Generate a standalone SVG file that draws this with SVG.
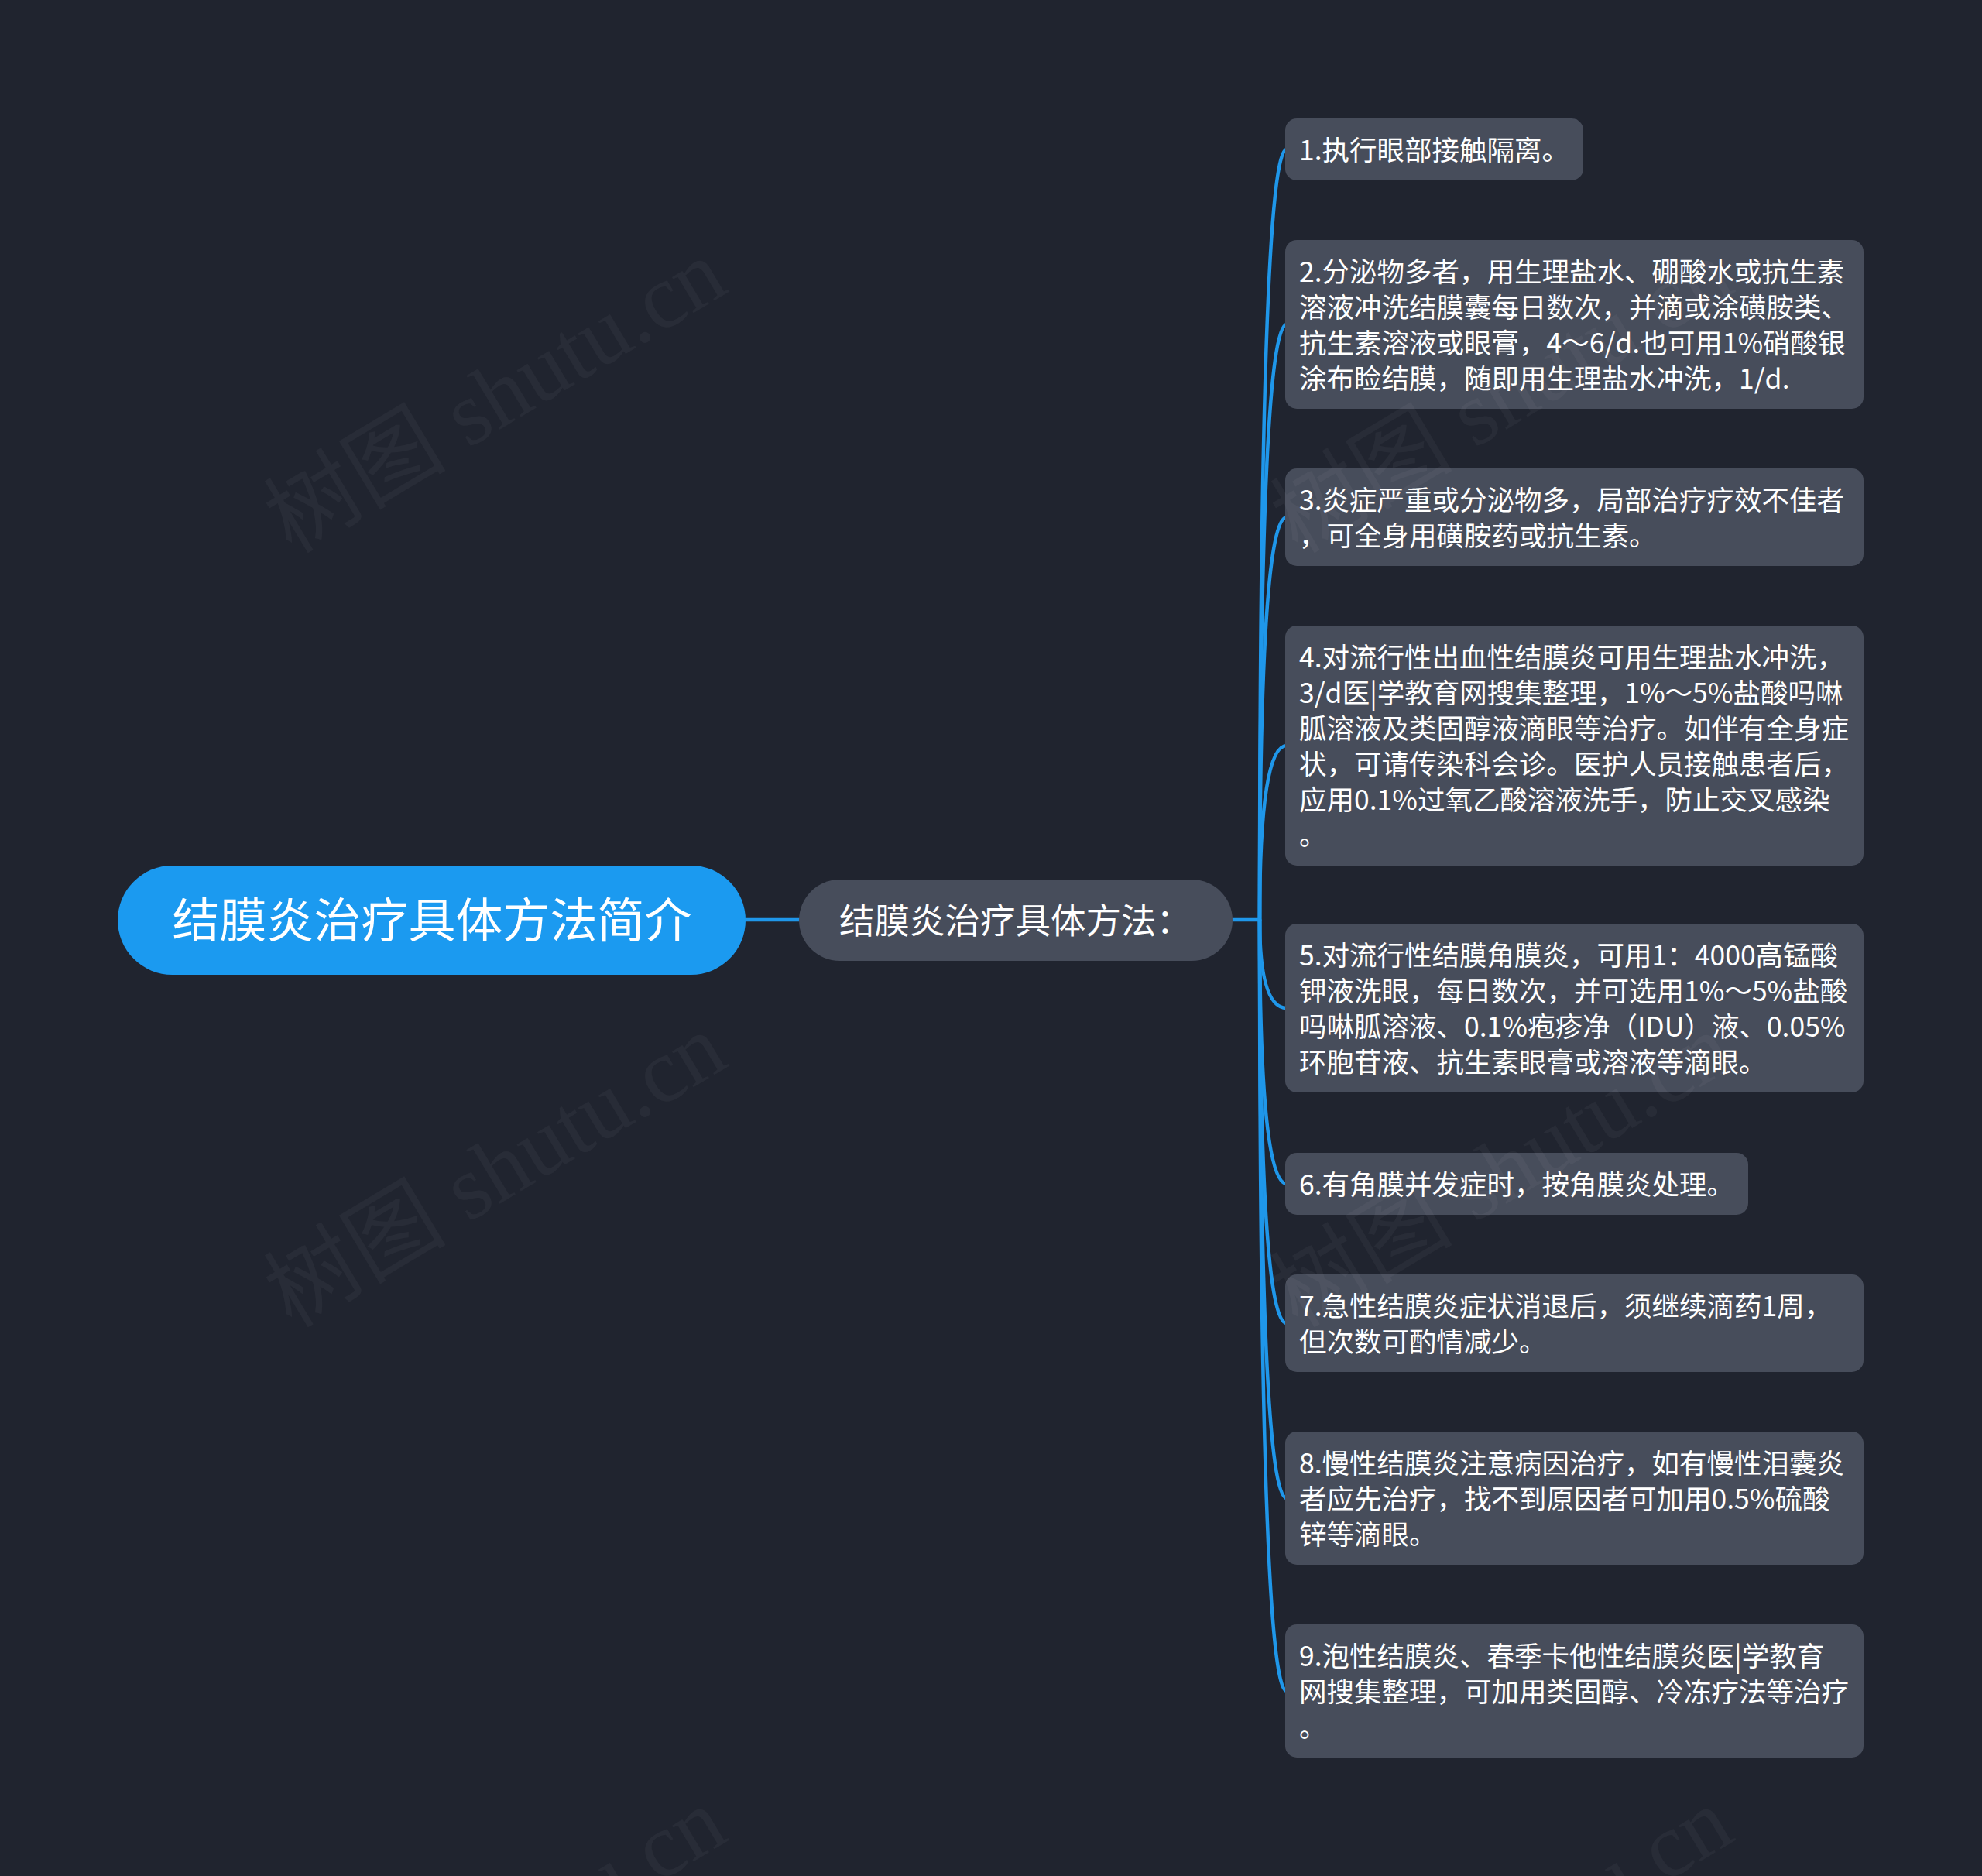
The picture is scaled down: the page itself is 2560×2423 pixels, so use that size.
<svg xmlns="http://www.w3.org/2000/svg" width="2560" height="2423" viewBox="0 0 2560 2423">
<style>
  .bg { fill: #20242f; }
  .root { fill: #1b9af0; }
  .mid { fill: #474d5b; }
  .leaf { fill: #474d5b; }
  .conn { fill: none; stroke: #1f97ea; stroke-width: 4.5; stroke-linecap: round; }
  .t { font-family: "Noto Sans CJK SC", "Microsoft YaHei", "Noto Sans", sans-serif; fill: #ffffff; dominant-baseline: central; }
  .rt { font-size: 61px; text-anchor: middle; }
  .mt { font-size: 45.5px; }
  .lt { font-size: 35.5px; }
  .wm { font-family: "Liberation Serif", "Noto Sans CJK SC", serif; font-size: 118px; fill: #ffffff; fill-opacity: 0.04; text-anchor: middle; dominant-baseline: central; }
</style>
<rect class="bg" x="0" y="0" width="2560" height="2423"/>

<g id="connectors">
  <path class="conn" d="M 963 1188 H 1032"/>
  <path class="conn" d="M 1592 1188 H 1627"/>
  <path class="conn" d="M 1627 1188 Q 1627 193 1662 193"/>
  <path class="conn" d="M 1627 1188 Q 1627 419 1662 419"/>
  <path class="conn" d="M 1627 1188 Q 1627 668 1662 668"/>
  <path class="conn" d="M 1627 1188 Q 1627 963 1662 963"/>
  <path class="conn" d="M 1627 1188 Q 1627 1302 1662 1302"/>
  <path class="conn" d="M 1627 1188 Q 1627 1529 1662 1529"/>
  <path class="conn" d="M 1627 1188 Q 1627 1709 1662 1709"/>
  <path class="conn" d="M 1627 1188 Q 1627 1935 1662 1935"/>
  <path class="conn" d="M 1627 1188 Q 1627 2184 1662 2184"/>
</g>

<g id="root">
  <rect class="root" x="152" y="1118" width="811" height="141" rx="70.5"/>
  <text class="t rt" x="558" y="1184">结膜炎治疗具体方法简介</text>
</g>

<g id="mid">
  <rect class="mid" x="1032" y="1136" width="560" height="105" rx="52.5"/>
  <text class="t mt" x="1084" y="1186">结膜炎治疗具体方法：</text>
</g>

<g id="leaf1">
  <rect class="leaf" x="1660" y="153" width="385" height="80" rx="15"/>
  <text class="t lt" x="1678"><tspan x="1678" y="191">1.执行眼部接触隔离。</tspan></text>
</g>

<g id="leaf2">
  <rect class="leaf" x="1660" y="310" width="747" height="218" rx="15"/>
  <text class="t lt" x="1678">
    <tspan x="1678" y="348">2.分泌物多者，用生理盐水、硼酸水或抗生素</tspan>
    <tspan x="1678" y="394">溶液冲洗结膜囊每日数次，并滴或涂磺胺类、</tspan>
    <tspan x="1678" y="440">抗生素溶液或眼膏，4～6/d.也可用1%硝酸银</tspan>
    <tspan x="1678" y="486">涂布睑结膜，随即用生理盐水冲洗，1/d.</tspan>
  </text>
</g>

<g id="leaf3">
  <rect class="leaf" x="1660" y="605" width="747" height="126" rx="15"/>
  <text class="t lt" x="1678">
    <tspan x="1678" y="643">3.炎症严重或分泌物多，局部治疗疗效不佳者</tspan>
    <tspan x="1678" y="689">，可全身用磺胺药或抗生素。</tspan>
  </text>
</g>

<g id="leaf4">
  <rect class="leaf" x="1660" y="808" width="747" height="310" rx="15"/>
  <text class="t lt" x="1678">
    <tspan x="1678" y="846">4.对流行性出血性结膜炎可用生理盐水冲洗，</tspan>
    <tspan x="1678" y="892">3/d医|学教育网搜集整理，1%～5%盐酸吗啉</tspan>
    <tspan x="1678" y="938">胍溶液及类固醇液滴眼等治疗。如伴有全身症</tspan>
    <tspan x="1678" y="984">状，可请传染科会诊。医护人员接触患者后，</tspan>
    <tspan x="1678" y="1030">应用0.1%过氧乙酸溶液洗手，防止交叉感染</tspan>
    <tspan x="1678" y="1076">。</tspan>
  </text>
</g>

<g id="leaf5">
  <rect class="leaf" x="1660" y="1193" width="747" height="218" rx="15"/>
  <text class="t lt" x="1678">
    <tspan x="1678" y="1231">5.对流行性结膜角膜炎，可用1：4000高锰酸</tspan>
    <tspan x="1678" y="1277">钾液洗眼，每日数次，并可选用1%～5%盐酸</tspan>
    <tspan x="1678" y="1323">吗啉胍溶液、0.1%疱疹净（IDU）液、0.05%</tspan>
    <tspan x="1678" y="1369">环胞苷液、抗生素眼膏或溶液等滴眼。</tspan>
  </text>
</g>

<g id="leaf6">
  <rect class="leaf" x="1660" y="1489" width="598" height="80" rx="15"/>
  <text class="t lt" x="1678"><tspan x="1678" y="1527">6.有角膜并发症时，按角膜炎处理。</tspan></text>
</g>

<g id="leaf7">
  <rect class="leaf" x="1660" y="1646" width="747" height="126" rx="15"/>
  <text class="t lt" x="1678">
    <tspan x="1678" y="1684">7.急性结膜炎症状消退后，须继续滴药1周，</tspan>
    <tspan x="1678" y="1730">但次数可酌情减少。</tspan>
  </text>
</g>

<g id="leaf8">
  <rect class="leaf" x="1660" y="1849" width="747" height="172" rx="15"/>
  <text class="t lt" x="1678">
    <tspan x="1678" y="1887">8.慢性结膜炎注意病因治疗，如有慢性泪囊炎</tspan>
    <tspan x="1678" y="1933">者应先治疗，找不到原因者可加用0.5%硫酸</tspan>
    <tspan x="1678" y="1979">锌等滴眼。</tspan>
  </text>
</g>

<g id="leaf9">
  <rect class="leaf" x="1660" y="2098" width="747" height="172" rx="15"/>
  <text class="t lt" x="1678">
    <tspan x="1678" y="2136">9.泡性结膜炎、春季卡他性结膜炎医|学教育</tspan>
    <tspan x="1678" y="2182">网搜集整理，可加用类固醇、冷冻疗法等治疗</tspan>
    <tspan x="1678" y="2228">。</tspan>
  </text>
</g>

<g id="watermarks">
  <text class="wm" x="640" y="512" transform="rotate(-31 640 512)">树图 shutu.cn</text>
  <text class="wm" x="640" y="1512" transform="rotate(-31 640 1512)">树图 shutu.cn</text>
  <text class="wm" x="640" y="2512" transform="rotate(-31 640 2512)">树图 shutu.cn</text>
  <text class="wm" x="1940" y="512" transform="rotate(-31 1940 512)">树图 shutu.cn</text>
  <text class="wm" x="1940" y="1512" transform="rotate(-31 1940 1512)">树图 shutu.cn</text>
  <text class="wm" x="1940" y="2512" transform="rotate(-31 1940 2512)">树图 shutu.cn</text>
</g>
</svg>
